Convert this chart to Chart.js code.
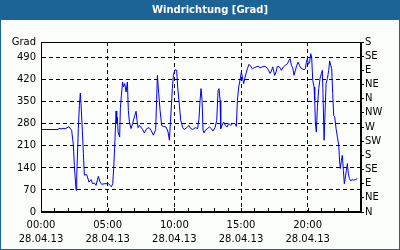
<!DOCTYPE html>
<html>
<head>
<meta charset="utf-8">
<script src="https://cdn.jsdelivr.net/npm/chart.js@4/dist/chart.umd.min.js"></script>
<style>
  html, body { margin: 0; padding: 0; background: #ffffff; }
  #wrap { width: 400px; height: 250px; position: relative; }
  canvas { display: block; }
</style>
</head>
<body>
<div id="wrap"><canvas id="c" width="400" height="250"></canvas></div>
<script>
const chartTitle = 'Windrichtung [Grad]';
const dateLabel = '28.04.13';
const hourTicks = [0,1,2,3,4,5,6,7,8,9,10,11,12,13,14,15,16,17,18,19,20,21,22,23,24];
const leftTicks = [0,70,140,210,280,350,420,490,540];
const leftTopLabel = 'Grad';
const compassTicks = [0,45,90,135,180,225,270,315,360,405,450,495,540];
const compassLabels = ['N','NE','E','SE','S','SW','W','NW','N','NE','E','SE','S'];

const hours = [0,1.3,1.35,1.5,1.65,1.8,2.1,2.3,2.43,2.5,2.63,2.68,2.8,2.88,2.95,3.0,3.1,3.18,3.25,3.43,3.6,3.75,3.87,4.0,4.13,4.3,4.43,4.55,4.8,5.05,5.18,5.28,5.38,5.45,5.53,5.63,5.68,5.73,5.78,5.9,5.95,6.03,6.12,6.18,6.28,6.38,6.48,6.55,6.63,6.75,6.87,7.0,7.13,7.2,7.28,7.38,7.48,7.63,7.75,7.93,8.1,8.25,8.43,8.6,8.73,8.83,8.93,9.05,9.18,9.38,9.53,9.63,9.73,9.85,9.93,10.05,10.18,10.25,10.38,10.48,10.63,10.73,10.93,11.1,11.23,11.38,11.58,11.75,11.85,11.93,12.0,12.08,12.15,12.23,12.33,12.48,12.63,12.78,12.9,13.05,13.18,13.28,13.35,13.43,13.48,13.58,13.7,13.83,13.95,14.08,14.23,14.38,14.55,14.65,14.73,14.83,14.93,15.03,15.1,15.2,15.28,15.38,15.48,15.6,15.73,15.85,15.98,16.13,16.28,16.43,16.58,16.73,16.88,17.05,17.18,17.28,17.38,17.53,17.63,17.73,17.88,18.03,18.18,18.33,18.48,18.6,18.68,18.78,18.88,18.98,19.08,19.18,19.28,19.38,19.48,19.58,19.73,19.83,19.9,19.98,20.05,20.15,20.23,20.3,20.38,20.48,20.53,20.58,20.65,20.73,20.83,20.93,21.03,21.1,21.15,21.23,21.3,21.38,21.48,21.58,21.65,21.73,21.8,21.88,21.95,22.03,22.13,22.23,22.33,22.4,22.45,22.53,22.6,22.68,22.75,22.83,22.9,22.98,23.05,23.13,23.23,23.33,23.43,23.58,23.73];
const direction = [262,262,266,264,266,264,271,259,212,148,69,111,265,339,378,344,260,185,117,119,95,103,90,92,85,113,95,88,90,90,85,80,90,138,210,321,281,300,254,238,328,371,413,397,408,381,413,323,286,265,281,302,320,291,268,275,270,262,251,265,268,260,244,262,434,376,323,275,272,270,254,228,302,392,434,452,450,397,339,291,268,262,268,275,265,262,268,265,297,355,392,355,260,251,260,265,270,265,257,268,291,386,392,355,265,275,286,275,270,281,275,281,281,272,355,397,420,445,429,408,424,440,455,469,463,455,458,461,463,458,461,463,461,452,440,448,461,434,445,463,461,450,461,466,471,482,487,466,458,434,450,466,476,466,458,455,452,455,476,487,469,476,503,492,418,397,355,281,254,334,392,424,440,450,376,228,312,408,424,450,480,466,455,376,307,302,265,238,212,159,138,164,180,132,90,111,132,154,122,106,99,103,101,103,106];

const points = hours.map((h, i) => ({ x: h, y: direction[i] }));
const FONT = { family: 'DejaVu Sans', size: 10 };

const framePlugin = {
  id: 'frame',
  beforeDraw(chart) {
    const ctx = chart.ctx;
    ctx.save();
    ctx.fillStyle = '#1c6496';
    ctx.fillRect(0, 0, 400, 250);
    ctx.fillStyle = '#fcfefc';
    ctx.fillRect(1, 20, 398, 229);
    ctx.fillStyle = '#ffffff';
    ctx.font = 'bold 10px "DejaVu Sans"';
    ctx.textAlign = 'center';
    ctx.textBaseline = 'middle';
    ctx.fillText(chartTitle, 210, 10);
    ctx.restore();
  },
  afterDraw(chart) {
    const ctx = chart.ctx;
    const a = chart.chartArea;
    const xs = chart.scales.x;
    ctx.save();
    ctx.strokeStyle = '#000000';
    ctx.lineWidth = 1;
    ctx.strokeRect(Math.round(a.left) + 0.5, Math.round(a.top) + 0.5, Math.round(a.right - a.left) - 1, Math.round(a.bottom - a.top) - 1);
    ctx.beginPath();
    hourTicks.forEach(h => {
      const px = Math.round(xs.getPixelForValue(h)) + 0.5;
      ctx.moveTo(px, a.bottom - 1);
      ctx.lineTo(px, a.bottom - 4);
    });
    ctx.stroke();
    ctx.restore();
  }
};

new Chart(document.getElementById('c'), {
  type: 'line',
  data: {
    datasets: [{
      data: points,
      borderColor: '#0000ee',
      borderWidth: 1,
      pointRadius: 0,
      tension: 0,
      fill: false,
      yAxisID: 'y'
    }]
  },
  options: {
    responsive: false,
    animation: false,
    events: [],
    layout: { padding: { top: 42, bottom: 0, left: 0, right: 0 } },
    plugins: { legend: { display: false }, title: { display: false }, tooltip: { enabled: false } },
    scales: {
      x: {
        type: 'linear',
        min: 0, max: 24,
        afterBuildTicks: s => { s.ticks = hourTicks.map(v => ({ value: v })); },
        afterFit: s => { s.height = 38; },
        ticks: {
          autoSkip: false,
          maxRotation: 0,
          padding: 6,
          color: '#000000',
          font: { family: 'DejaVu Sans', size: 10, lineHeight: 1.4 },
          callback: v => (v % 5 === 0 && v < 24) ? [String(v).padStart(2, '0') + ':00', dateLabel] : ''
        },
        grid: {
          drawTicks: false,
          color: c => (c.tick && c.tick.value % 5 === 0 && c.tick.value > 0 && c.tick.value < 24) ? '#000000' : 'rgba(0,0,0,0)',
          lineWidth: 1
        },
        border: { display: true, color: '#000000', dash: [4, 3] }
      },
      y: {
        type: 'linear',
        position: 'left',
        min: 0, max: 540,
        afterBuildTicks: s => { s.ticks = leftTicks.map(v => ({ value: v })); },
        afterFit: s => { s.width = 41; },
        ticks: {
          autoSkip: false,
          padding: 5,
          color: '#000000',
          font: FONT,
          callback: v => v === 540 ? leftTopLabel : String(v)
        },
        grid: {
          drawTicks: false,
          color: c => (c.tick && c.tick.value > 0 && c.tick.value < 540) ? '#000000' : 'rgba(0,0,0,0)',
          lineWidth: 1
        },
        border: { display: true, color: '#000000', dash: [4, 3] }
      },
      y2: {
        type: 'linear',
        position: 'right',
        min: 0, max: 540,
        afterBuildTicks: s => { s.ticks = compassTicks.map(v => ({ value: v })); },
        afterFit: s => { s.width = 39; },
        ticks: {
          autoSkip: false,
          padding: 1,
          color: '#000000',
          font: FONT,
          callback: (v, i) => compassLabels[compassTicks.indexOf(v)]
        },
        grid: {
          drawOnChartArea: false,
          drawTicks: true,
          tickLength: 3,
          color: '#000000'
        },
        border: { display: true, color: '#000000' }
      }
    }
  },
  plugins: [framePlugin]
});
</script>
</body>
</html>
